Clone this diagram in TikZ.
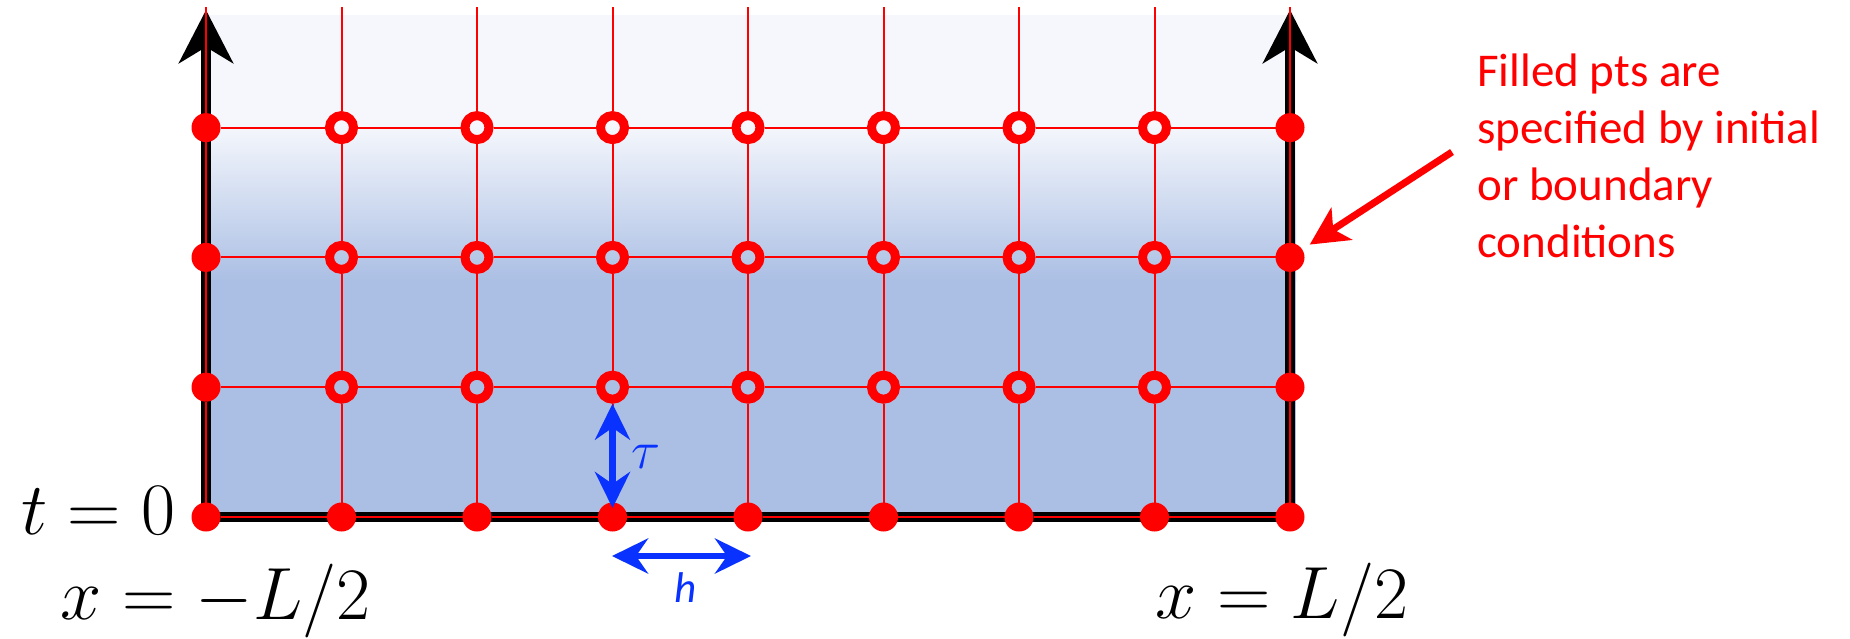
\documentclass[tikz,border=0pt]{standalone}
\usepackage{fix-cm}
\usepackage{fontspec}
\newfontfamily\calibri{Carlito}
\usetikzlibrary{arrows.meta}
\definecolor{bglight}{RGB}{245,247,252}
\definecolor{bgblue}{RGB}{171,191,228}
\definecolor{gridred}{RGB}{255,0,0}
\definecolor{arrblue}{RGB}{10,50,255}
\pgfdeclarelayer{bg}
\pgfdeclarelayer{axes}
\pgfdeclarelayer{grid}
\pgfsetlayers{bg,axes,grid,main}
\begin{document}
\begin{tikzpicture}[x=0.5pt,y=-0.5pt,
  filled/.style={circle,fill=gridred,minimum size=14.5pt,inner sep=0pt,outer sep=0pt},
  hollow/.style={circle,draw=gridred,line width=4.5pt,minimum size=12pt,inner sep=0pt,outer sep=2.25pt},
  gridline/.style={draw=gridred,line width=1pt},
  blacktip/.tip={Stealth[length=26.5pt,width=27pt,inset=8pt]},
  bluetip/.tip={Stealth[length=18pt,width=17.5pt,inset=6pt]},
  redtip/.tip={Stealth[length=19pt,width=19pt,inset=5pt]},
  axis/.style={draw=black,line width=5pt,line join=miter,blacktip-blacktip},
  spacing/.style={draw=arrblue,line width=3.25pt,bluetip-bluetip},
  pointer/.style={draw=gridred,line width=3.5pt,-redtip},
  mathlabel/.style={inner sep=0pt,font=\fontsize{37}{44}\selectfont},
]
\useasboundingbox (0,0) rectangle (1850,638);

% background gradient
\begin{pgfonlayer}{bg}
  \fill[bglight] (206,15) rectangle (1296,126);
  \shade[top color=bglight,bottom color=bgblue] (206,125) rectangle (1296,281);
  \fill[bgblue] (206,280) rectangle (1296,517);
\end{pgfonlayer}

% grid points
\foreach \i in {0,...,8}{
  \foreach \j in {0,...,3}{
    \pgfmathtruncatemacro\isfilled{(\j==0)||(\i==0)||(\i==8)}
    \ifnum\isfilled=1
      \node[filled] (p-\i-\j) at ({206+135.5*\i},{517-129.8*\j}) {};
    \else
      \node[hollow] (p-\i-\j) at ({206+135.5*\i},{517-129.8*\j}) {};
    \fi
  }
  \coordinate (top-\i) at ({206+135.5*\i},7);
}

% red grid lines
\begin{pgfonlayer}{grid}
  \foreach \j in {0,...,3}{
    \foreach \i [evaluate=\i as \k using int(\i+1)] in {0,...,7}{
      \draw[gridline] (p-\i-\j) -- (p-\k-\j);
    }
  }
  \foreach \i in {0,...,8}{
    \foreach \j [evaluate=\j as \k using int(\j+1)] in {0,...,2}{
      \draw[gridline] (p-\i-\j) -- (p-\i-\k);
    }
    \draw[gridline] (p-\i-3) -- (top-\i);
  }
\end{pgfonlayer}

% axes
\coordinate (ltop) at (206,10);
\coordinate (rtop) at (1290,10);
\begin{pgfonlayer}{axes}
  \draw[axis] (ltop) -- (p-0-0.center) -- (p-8-0.center) -- (rtop);
\end{pgfonlayer}

% tau and h
\draw[spacing,shorten >=-2.75pt] (p-3-1) -- (p-3-0);
\node[inner sep=0pt,text=arrblue,font=\fontsize{27}{32}\selectfont] (tau) at (646,457) {$\tau$};
\coordinate (hL) at (612,556);
\coordinate (hR) at (751,556);
\draw[spacing] (hL) -- (hR);
\node[inner sep=0pt,text=arrblue,font=\calibri\itshape\fontsize{21.5}{26}\selectfont,anchor=base] (hlab) at (686,602) {h};

% axis labels
\node[mathlabel,anchor=base east] (t0) at (176,534) {$t=0$};
\node[mathlabel,anchor=base west] (xl) at (60,619) {$x=-L/2$};
\node[mathlabel,anchor=base west] (xr) at (1155,618) {$x=L/2$};

% annotation
\node[anchor=base west,align=left,inner sep=0pt,text=gridred,font=\calibri\fontsize{23.5}{28.5}\selectfont] (note) at (1477,257) {Filled pts are\\specified by initial\\or boundary\\conditions};
\coordinate (tail) at (1452,152);
\draw[pointer,shorten >=4.5pt] (tail) -- (p-8-2);
\end{tikzpicture}
\end{document}
